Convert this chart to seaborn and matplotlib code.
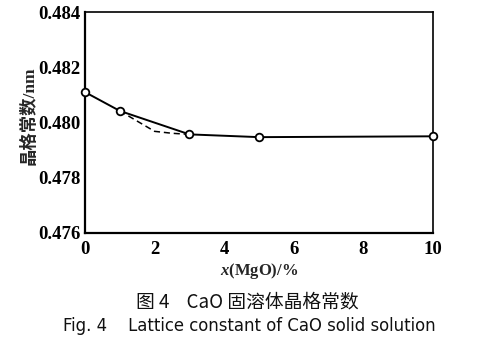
import matplotlib
matplotlib.use("Agg")
import matplotlib.pyplot as plt
import seaborn as sns
import pandas as pd

sns.set_theme(style="white")
plt.rcParams['font.family'] = ['Liberation Serif', 'Noto Sans CJK SC']
plt.rcParams['mathtext.fontset'] = 'custom'
plt.rcParams['mathtext.bfit'] = 'Liberation Serif:italic:bold'
plt.rcParams['mathtext.rm'] = 'Liberation Serif'

# MgO content (mole %) and measured lattice constant (nm)
mgo = [0, 1, 3, 5, 10]
lattice = [0.48110, 0.48042, 0.47957, 0.47947, 0.47950]

# fitted (dashed) branch between 1 % and 3 % MgO
mgo_fit = [1, 1.5, 2, 2.5, 3]
lattice_fit = [0.48042, 0.48005, 0.47968, 0.47961, 0.47957]

xticks = [0, 2, 4, 6, 8, 10]
yticks = [0.476, 0.478, 0.480, 0.482, 0.484]

df = pd.DataFrame({"x": mgo, "a": lattice})
df_fit = pd.DataFrame({"x": mgo_fit, "a": lattice_fit})

fig = plt.figure(figsize=(4.93, 3.46), dpi=100)
ax = fig.add_axes([0.1724, 0.3266, 0.7059, 0.6387])

sns.lineplot(data=df_fit, x="x", y="a", ax=ax, color="black", lw=1.1,
             linestyle=(0, (4, 2.5)), zorder=2)
sns.lineplot(data=df, x="x", y="a", ax=ax, color="black", lw=1.4,
             marker="o", markersize=5.5, markerfacecolor="white",
             markeredgecolor="black", markeredgewidth=1.3, zorder=3,
             clip_on=False)

ax.set_xlim(0, 10)
ax.set_ylim(0.476, 0.484)
ax.set_xticks(xticks)
ax.set_yticks(yticks)
ax.set_xticklabels([str(t) for t in xticks], fontsize=13.5, fontweight="bold")
ax.set_yticklabels([f"{t:.3f}" for t in yticks], fontsize=13.5, fontweight="bold")
ax.tick_params(axis="x", direction="in", length=3, width=1, colors="black", pad=6)
ax.tick_params(axis="y", direction="in", length=3, width=1, colors="black", pad=3)

for side in ["left", "bottom"]:
    ax.spines[side].set_linewidth(1.6)
for side in ["top", "right"]:
    ax.spines[side].set_linewidth(1.2)
for s in ax.spines.values():
    s.set_color("black")

ax.set_xlabel(r"$\mathbfit{x}$(MgO)/%", fontsize=12, fontweight="bold", labelpad=2)
ax.set_ylabel("晶格常数/nm", fontsize=12.5, fontweight="bold",
              family=["Liberation Serif", "Noto Sans CJK SC"])
ax.yaxis.set_label_coords(-0.135, 0.53)

fig.text(0.502, 0.128, "图 4    CaO 固溶体晶格常数", ha="center", va="center",
         fontsize=13.5, color="#111111",
         family=["Noto Sans CJK SC", "DejaVu Sans"])
fig.text(0.506, 0.058, "Fig. 4    Lattice constant of CaO solid solution",
         ha="center", va="center", fontsize=11.9, color="#111111",
         family=["DejaVu Sans"])

fig.savefig("out.png", dpi=100, facecolor="white")
